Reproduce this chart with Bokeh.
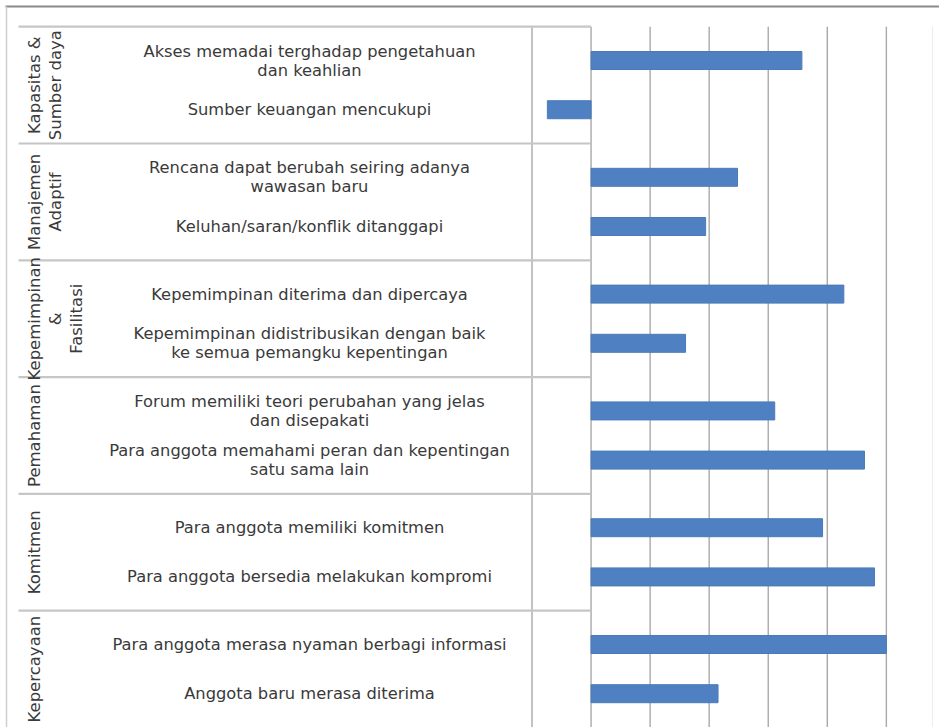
import numpy as np
from bokeh.plotting import figure
from bokeh.models import ColumnDataSource, Range1d
from bokeh.embed import file_html
from bokeh.resources import INLINE
from bokeh.core.properties import value

# ---------------- data ----------------
groups = ["Kapasitas &\nSumber daya", "Manajemen\nAdaptif", "Kepemimpinan\n&\nFasilitasi",
          "Pemahaman", "Komitmen", "Kepercayaan"]
items_per_group = [2, 2, 2, 2, 2, 2]
items = [
    "Akses memadai terghadap pengetahuan\ndan keahlian",
    "Sumber keuangan mencukupi",
    "Rencana dapat berubah seiring adanya\nwawasan baru",
    "Keluhan/saran/konflik ditanggapi",
    "Kepemimpinan diterima dan dipercaya",
    "Kepemimpinan didistribusikan dengan baik\nke semua pemangku kepentingan",
    "Forum memiliki teori perubahan yang jelas\ndan disepakati",
    "Para anggota memahami peran dan kepentingan\nsatu sama lain",
    "Para anggota memiliki komitmen",
    "Para anggota bersedia melakukan kompromi",
    "Para anggota merasa nyaman berbagi informasi",
    "Anggota baru merasa diterima",
]
scores = [3.57, -0.74, 2.48, 1.94, 4.28, 1.60, 3.11, 4.63, 3.92, 4.80, 5.00, 2.15]
grid_ticks = [-1, 0, 1, 2, 3, 4, 5]

# ---------------- layout ----------------
W, H = 939, 727
X0, X1 = -10.0, 5.9          # data range across the canvas width
Y_TOP, Y_BOT = -1.22, 13.557  # category slot range (top -> bottom)
GAP = 0.374                   # extra space between groups (in slots)
BAR_H = 0.366

def px2x(px):
    return X0 + px * (X1 - X0) / W

def px2y(py):
    return Y_TOP + py * (Y_BOT - Y_TOP) / H

group_idx = np.repeat(np.arange(len(groups)), items_per_group)
pos = np.arange(len(items)) + GAP * group_idx

first = np.cumsum([0] + items_per_group[:-1])
last = first + np.array(items_per_group) - 1
g_start = pos[first] - 0.5 - GAP / 2
g_end = pos[last] + 0.5 + GAP / 2
g_mid = (g_start + g_end) / 2

p = figure(width=W, height=H, x_range=Range1d(X0, X1), y_range=Range1d(Y_BOT, Y_TOP),
           x_axis_location=None, y_axis_location=None, toolbar_location=None,
           output_backend="svg", min_border=0)
p.grid.visible = False
p.outline_line_color = None
p.background_fill_color = "white"
p.border_fill_color = "white"

table_left = px2x(18)
table_top = g_start[0]

# outer border
p.segment(x0=[px2x(5)], y0=[px2y(6)], x1=[X1], y1=[px2y(6)], line_color="#8a8a8a", line_width=2)
p.segment(x0=[px2x(6)], y0=[px2y(6)], x1=[px2x(6)], y1=[Y_BOT], line_color="#cfcfcf", line_width=1.5)

# vertical gridlines (from table top down)
p.segment(x0=grid_ticks, y0=[table_top] * len(grid_ticks), x1=grid_ticks, y1=[Y_BOT] * len(grid_ticks),
          line_color="#a9a9a9", line_width=1.4)
p.segment(x0=[px2x(932)], y0=[table_top], x1=[px2x(932)], y1=[Y_BOT], line_color="#ececec", line_width=1)

# table horizontal lines (top + group separators)
p.segment(x0=[table_left] * len(groups), y0=list(g_start), x1=[0] * len(groups), y1=list(g_start),
          line_color="#c6c6c6", line_width=2.2)

# bars
src = ColumnDataSource(dict(y=pos, v=scores, label=items))
p.hbar(y="y", left=0, right="v", height=BAR_H, source=src,
       fill_color="#4f81c2", line_color="#4a7bb8", line_width=1)

# item labels
p.text(x=px2x(309), y="y", text="label", source=src, text_align="center", text_baseline="middle",
       text_font=value("DejaVu Sans"), text_font_size="16.3px", text_color="#3a3a3a",
       text_line_height=1.0)

# group labels (rotated)
p.text(x=[px2x(24)] * len(groups), y=list(g_mid), text=groups, angle=np.pi / 2,
       text_align="center", text_baseline="top",
       text_font=value("DejaVu Sans"), text_font_size="16.5px", text_color="#3a3a3a",
       text_line_height=1.12)

open("out.html", "w").write(file_html(p, INLINE))
